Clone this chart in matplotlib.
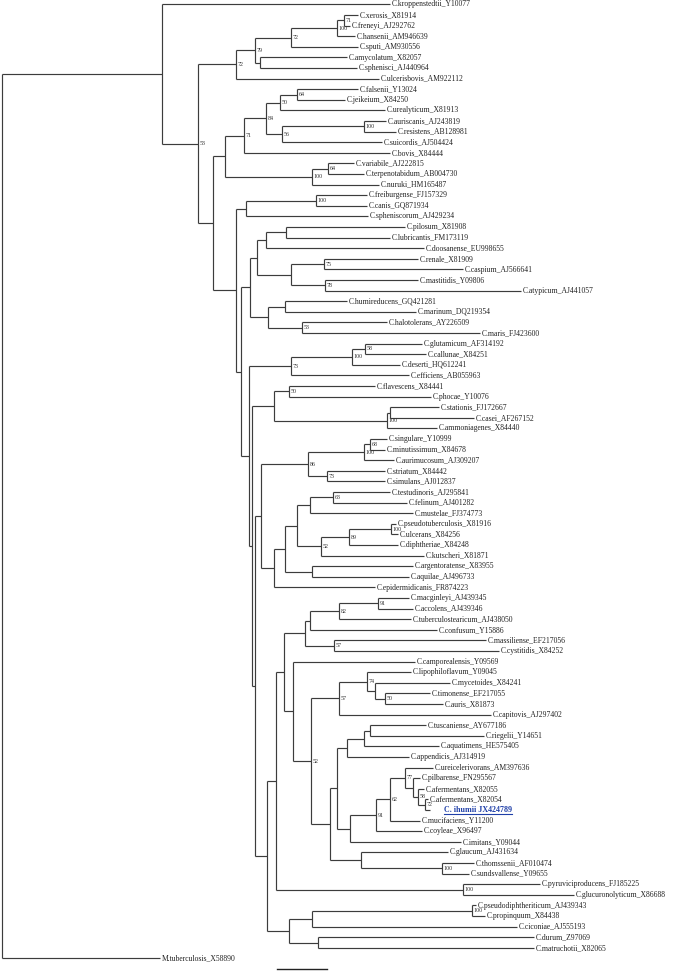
import matplotlib
matplotlib.use('Agg')
import matplotlib.pyplot as plt
from matplotlib.collections import LineCollection

plt.rcParams['font.family'] = ['Liberation Serif', 'DejaVu Serif']

# ---------------- data ----------------
leaf_names = [
    "C.kroppenstedtii_Y10077", "C.xerosis_X81914", "C.freneyi_AJ292762", "C.hansenii_AM946639",
    "C.sputi_AM930556", "C.amycolatum_X82057", "C.sphenisci_AJ440964", "C.ulcerisbovis_AM922112",
    "C.falsenii_Y13024", "C.jeikeium_X84250", "C.urealyticum_X81913", "C.auriscanis_AJ243819",
    "C.resistens_AB128981", "C.suicordis_AJ504424", "C.bovis_X84444", "C.variabile_AJ222815",
    "C.terpenotabidum_AB004730", "C.nuruki_HM165487", "C.freiburgense_FJ157329", "C.canis_GQ871934",
    "C.spheniscorum_AJ429234", "C.pilosum_X81908", "C.lubricantis_FM173119", "C.doosanense_EU998655",
    "C.renale_X81909", "C.caspium_AJ566641", "C.mastitidis_Y09806", "C.atypicum_AJ441057",
    "C.humireducens_GQ421281", "C.marinum_DQ219354", "C.halotolerans_AY226509", "C.maris_FJ423600",
    "C.glutamicum_AF314192", "C.callunae_X84251", "C.deserti_HQ612241", "C.efficiens_AB055963",
    "C.flavescens_X84441", "C.phocae_Y10076", "C.stationis_FJ172667", "C.casei_AF267152",
    "C.ammoniagenes_X84440", "C.singulare_Y10999", "C.minutissimum_X84678", "C.aurimucosum_AJ309207",
    "C.striatum_X84442", "C.simulans_AJ012837", "C.testudinoris_AJ295841", "C.felinum_AJ401282",
    "C.mustelae_FJ374773", "C.pseudotuberculosis_X81916", "C.ulcerans_X84256", "C.diphtheriae_X84248",
    "C.kutscheri_X81871", "C.argentoratense_X83955", "C.aquilae_AJ496733", "C.epidermidicanis_FR874223",
    "C.macginleyi_AJ439345", "C.accolens_AJ439346", "C.tuberculostearicum_AJ438050", "C.confusum_Y15886",
    "C.massiliense_EF217056", "C.cystitidis_X84252", "C.camporealensis_Y09569", "C.lipophiloflavum_Y09045",
    "C.mycetoides_X84241", "C.timonense_EF217055", "C.auris_X81873", "C.capitovis_AJ297402",
    "C.tuscaniense_AY677186", "C.riegelii_Y14651", "C.aquatimens_HE575405", "C.appendicis_AJ314919",
    "C.ureicelerivorans_AM397636", "C.pilbarense_FN295567", "C.afermentans_X82055", "C.afermentans_X82054",
    "C. ihumii JX424789", "C.mucifaciens_Y11200", "C.coyleae_X96497", "C.imitans_Y09044",
    "C.glaucum_AJ431634", "C.thomssenii_AF010474", "C.sundsvallense_Y09655", "C.pyruviciproducens_FJ185225",
    "C.glucuronolyticum_X86688", "C.pseudodiphtheriticum_AJ439343", "C.propinquum_X84438", "C.ciconiae_AJ555193",
    "C.durum_Z97069", "C.matruchotii_X82065", "M.tuberculosis_X58890",
]

# distance of each tip from the root (scale bar = 50 units)
leaf_depth = [
    388, 356, 348, 353, 356, 345, 355, 377, 356, 343, 383, 384, 394, 380, 388, 352,
    362, 377, 365, 365, 366, 403, 388, 422, 416, 461, 416, 519, 345, 414, 385, 478,
    420, 424, 398, 407, 373, 429, 437, 472, 435, 385, 383, 392, 383, 383, 388, 405,
    411, 394, 396, 396, 422, 411, 407, 373, 407, 411, 409, 435, 484, 497, 413, 409,
    448, 428, 441, 489, 424, 482, 437, 407, 431, 418, 422, 426, 428, 418, 420, 459,
    446, 472, 467, 538, 572, 474, 483, 515, 532, 532, 158,
]

highlight_leaf = "C. ihumii JX424789"

# internal nodes: name, children (leaf index or node name), distance from root, bootstrap
node_names = [
    "root", "R1", "N53", "C72", "N79", "N72b", "N100a", "N71", "Namy",
    "NB", "NC", "N71b", "N84", "N50", "N64", "N56", "N100b", "N100c", "N64b",
    "ND", "Nfcs", "N100d", "NE", "N250", "N257", "Npld", "Npl", "Nrcma", "N75", "N78",
    "Nhum", "Nhm", "N53b", "NN", "N73", "N100e", "N58", "NBB", "Nflav", "N50b",
    "N100f", "Nsc", "NAA", "NK", "N86", "N100g", "N68", "N73b", "NJ", "NI", "Nmid",
    "N63g", "N63", "N52", "N89", "N100h", "Naa", "NY", "NZ", "NR", "NQ", "Nconf",
    "N82", "N91", "N57", "NS", "N52c", "N57b", "N74", "Nmyc", "N50c", "NT", "NU",
    "Napp", "Ntra", "Ntr", "NW", "N91b", "N62", "N77", "Npil", "N58c", "N72c", "NX",
    "N100i", "N100j", "Nbot", "Nps", "N100k", "Ndm",
]
node_children = [
    ["R1", 90], [0, "N53"], ["C72", "NB"], ["N79", 7], ["N72b", "Namy"], ["N100a", 4],
    ["N71", 3], [1, 2], [5, 6],
    ["NC", "ND"], ["N71b", "N100c"], ["N84", 14], ["N50", "N56"], ["N64", 10], [8, 9],
    ["N100b", 13], [11, 12], ["N64b", 17], [15, 16],
    ["Nfcs", "NE"], ["N100d", 20], [18, 19], ["N250", "NN"], ["N257", "Nhum"],
    ["Npld", "Nrcma"], ["Npl", 23], [21, 22], ["N75", "N78"], [24, 25], [26, 27],
    ["Nhm", "N53b"], [28, 29], [30, 31], ["N73", "NBB"], ["N100e", 35], ["N58", 34],
    [32, 33], ["Nflav", "NAA"], ["N50b", "N100f"], [36, 37],
    ["Nsc", 40], [38, 39], ["NK", "NY"], ["N86", "NJ"], ["N100g", "N73b"], ["N68", 43],
    [41, 42], [44, 45], ["NI", 55], ["Nmid", "Naa"], ["N63g", "N52"],
    ["N63", 48], [46, 47], ["N89", 52], ["N100h", 51], [49, 50], [53, 54],
    ["NZ", "Nbot"], ["NR", "N100j"], ["NQ", "NS"], ["Nconf", "N57"], ["N82", 59],
    ["N91", 58], [56, 57], [60, 61], [62, "N52c"], ["N57b", "NT"], ["N74", 67],
    [63, "Nmyc"], [64, "N50c"], [65, 66], ["NU", "NX"], ["Napp", "NW"],
    ["Ntra", 71], ["Ntr", 70], [68, 69], ["N91b", 79], ["N62", 78], ["N77", 77],
    [72, "Npil"], [73, "N58c"], [74, "N72c"], [75, 76], [80, "N100i"],
    [81, 82], [83, 84], ["Nps", "Ndm"], ["N100k", 87], [85, 86], [88, 89],
]
node_depth = [
    0, 160, 196, 234, 253, 289, 335, 342, 258,
    211, 223, 242, 264, 278, 295, 280, 362, 310, 326,
    234, 244, 314, 239, 248, 255, 264, 284, 289, 322, 323,
    266, 283, 300, 247, 289, 350, 363, 250, 272, 287,
    385, 388, 253, 259, 306, 362, 368, 325, 272, 283, 295,
    308, 331, 319, 347, 389, 310, 265, 274, 282, 303, 308,
    337, 376, 332, 291, 309, 337, 365, 373, 383, 328, 335,
    345, 362, 368, 348, 374, 388, 403, 411, 416, 423, 359,
    440, 461, 287, 310, 470, 316,
]
node_support = [
    "", "", "53", "72", "79", "72", "100", "71", "",
    "", "", "71", "84", "50", "64", "56", "100", "100", "64",
    "", "", "100", "", "", "", "", "", "", "75", "78",
    "", "", "53", "", "73", "100", "58", "", "", "50",
    "100", "", "", "", "86", "100", "68", "73", "", "", "",
    "", "63", "52", "89", "100", "", "", "", "", "", "",
    "82", "91", "57", "", "52", "57", "74", "", "50", "", "",
    "", "", "", "", "91", "62", "77", "", "58", "72", "",
    "100", "100", "", "", "100", "",
]

# ---------------- layout ----------------
W, H, DPI = 685, 972, 100
Y0, DY = 4.5, 10.6          # pixel row of first tip, pixel spacing of tips

fig = plt.figure(figsize=(W / DPI, H / DPI), dpi=DPI)
ax = fig.add_axes([0, 0, 1, 1])
ax.set_xlim(-2, W - 2)
ax.set_ylim((H - Y0) / DY, -Y0 / DY)
ax.axis('off')

children = dict(zip(node_names, node_children))
depth = dict(zip(node_names, node_depth))
support = dict(zip(node_names, node_support))

ypos = {}


def get_y(n):
    if isinstance(n, int):
        return float(n)
    if n not in ypos:
        ch = children[n]
        ypos[n] = (get_y(ch[0]) + get_y(ch[-1])) / 2.0
    return ypos[n]


def get_x(n):
    return float(leaf_depth[n]) if isinstance(n, int) else float(depth[n])


segs = []
for n in node_names:
    ch = children[n]
    x = depth[n]
    segs.append([(x, get_y(ch[0])), (x, get_y(ch[-1]))])
    for c in ch:
        segs.append([(x, get_y(c)), (get_x(c), get_y(c))])

lc = LineCollection(segs, colors='#3c3c3c', linewidths=0.85, capstyle='butt')
ax.add_collection(lc)

# bootstrap values
for n in node_names:
    if support[n]:
        ax.text(depth[n] + 1.5, get_y(n), support[n], fontsize=4.3,
                ha='left', va='center', color='#333333')

# tip labels
hl_text = None
for i, name in enumerate(leaf_names):
    if name == highlight_leaf:
        hl_text = ax.text(leaf_depth[i] + 14, i, name, fontsize=5.8, ha='left',
                          va='center', color='#1f3fa8', fontweight='bold')
    else:
        ax.text(leaf_depth[i] + 2, i, name, fontsize=5.5, ha='left',
                va='center', color='#222222')

# underline for highlighted tip
fig.canvas.draw()
if hl_text is not None:
    bb = hl_text.get_window_extent(renderer=fig.canvas.get_renderer())
    inv = ax.transData.inverted()
    (x0, y0), (x1, _) = inv.transform([(bb.x0, bb.y0 + 0.5), (bb.x1, bb.y0 + 0.5)])
    ax.plot([x0, x1], [y0, y0], color='#1f3fa8', lw=0.8)

# scale bar
sb_y = (969 - Y0) / DY
ax.plot([275, 325], [sb_y, sb_y], color='#222222', lw=1.0)

fig.savefig('out.png', dpi=DPI)
